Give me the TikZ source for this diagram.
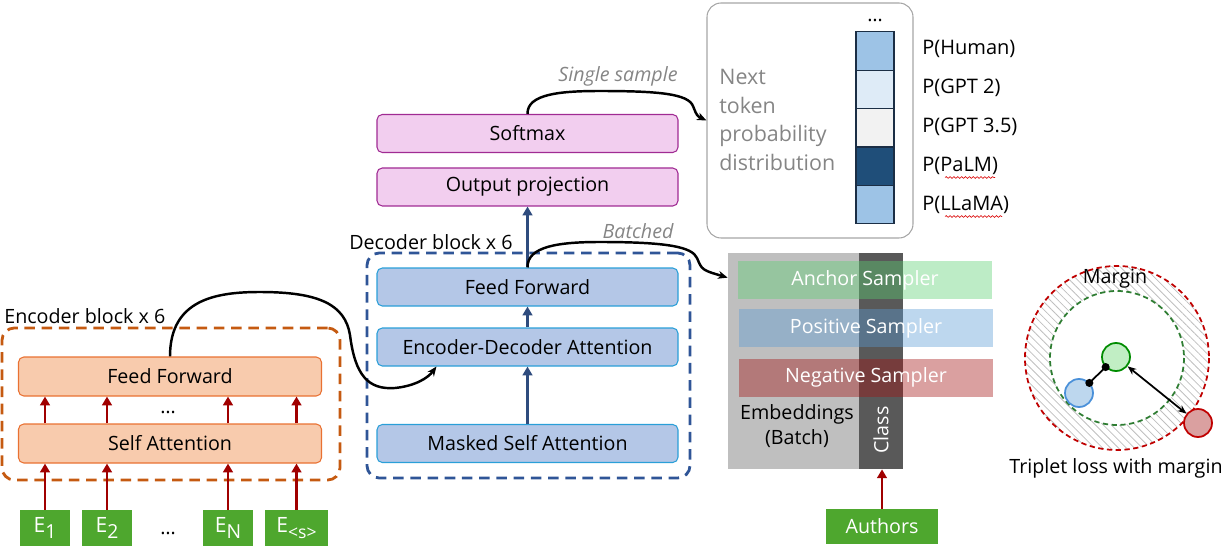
\documentclass[tikz,border=0pt]{standalone}
\usepackage{fontspec}
\setmainfont{Open Sans}
\usetikzlibrary{arrows.meta,patterns.meta,decorations.pathmorphing,calc}

\definecolor{encfill}{HTML}{F8CBAD}
\definecolor{encdraw}{HTML}{E97132}
\definecolor{encdash}{HTML}{C55A11}
\definecolor{decfill}{HTML}{B4C7E7}
\definecolor{decdraw}{HTML}{2A9FD8}
\definecolor{decdash}{HTML}{2F5597}
\definecolor{decarrow}{HTML}{2F4C7E}
\definecolor{outfill}{HTML}{F2CEEF}
\definecolor{outdraw}{HTML}{A02B93}
\definecolor{tokgreen}{HTML}{4EA72E}
\definecolor{redarrow}{HTML}{A00000}
\definecolor{notegray}{HTML}{858585}
\definecolor{boxgray}{HTML}{A6A6A6}
\definecolor{embgray}{HTML}{BFBFBF}
\definecolor{classgray}{HTML}{595959}
\definecolor{ancC}{RGB}{90,207,112}
\definecolor{posC}{RGB}{90,155,212}
\definecolor{negC}{RGB}{162,17,17}
\definecolor{barA}{HTML}{9DC3E6}
\definecolor{barB}{HTML}{DEEBF7}
\definecolor{barC}{HTML}{F2F2F2}
\definecolor{barD}{HTML}{1F4E79}
\definecolor{barline}{HTML}{1B2E45}
\definecolor{margred}{HTML}{C00000}
\definecolor{margreen}{HTML}{2E7D32}

\def\pu{0.02cm}
\newcommand\tsub[1]{\raisebox{-0.5ex}{\fontsize{11}{11}\selectfont #1}}

\tikzset{
  lbl/.style={font=\fontsize{11.2}{13}\selectfont},
  encblock/.style={lbl, draw=encdraw, fill=encfill, rounded corners=3pt, line width=0.6pt,
    minimum width=303*\pu, minimum height=39*\pu, inner sep=0pt},
  decblock/.style={lbl, draw=decdraw, fill=decfill, rounded corners=3pt, line width=0.6pt,
    minimum width=301*\pu, minimum height=38*\pu, inner sep=0pt},
  outblock/.style={lbl, draw=outdraw, fill=outfill, rounded corners=3pt, line width=0.6pt,
    minimum width=301*\pu, minimum height=38*\pu, inner sep=0pt},
  frame/.style={dash pattern=on 6pt off 3.8pt, line width=1.6pt, rounded corners=7pt, inner sep=0pt},
  tok/.style={fill=tokgreen, text=white, font=\fontsize{12}{14}\selectfont, minimum height=36*\pu, inner sep=0pt},
  redarr/.style={draw=redarrow, line width=1.7pt, -{Triangle[length=5pt,width=5.5pt]}},
  bluearr/.style={draw=decarrow, line width=1.7pt, -{Triangle[length=5pt,width=5.5pt]}},
  curvearr/.style={draw=black, line width=1.4pt, -{Stealth[length=5.5pt,width=4.5pt]}},
  note/.style={font=\fontsize{11.2}{13}\selectfont\itshape, text=notegray},
  cell/.style={draw=barline, line width=0.6pt, minimum width=38*\pu, minimum height=38.4*\pu, inner sep=0pt},
  plabel/.style={font=\fontsize{11.4}{13}\selectfont, anchor=west, inner sep=0pt},
  sampler/.style={lbl, text=white, fill opacity=0.4, text opacity=1, minimum width=254*\pu,
    minimum height=38*\pu, inner sep=0pt},
  dot3/.style={lbl, inner sep=0pt},
  squiggle/.style={draw=red!85!black, line width=0.35pt, decorate,
    decoration={snake, amplitude=0.5pt, segment length=2.2pt}},
  ball/.style={circle, line width=1pt, minimum size=28*\pu, inner sep=0pt},
}

\begin{document}
\begin{tikzpicture}[x=\pu, y=-\pu]
\useasboundingbox (0,0) rectangle (1225,554);

% ---------------- Encoder ----------------
\node[frame, draw=encdash, minimum width=338*\pu, minimum height=152*\pu] (encframe) at (171,404) {};
\node[lbl, anchor=west, inner sep=0pt] (enclabel) at (4,316) {Encoder block x 6};
\node[encblock] (efeed) at (170,376.5) {Feed Forward};
\node[encblock] (eself) at (170,443.5) {Self Attention};
\node[dot3] (edotsA) at (168,412) {…};

\node[tok, minimum width=50*\pu] (e1) at (45,528) {E\tsub{1}};
\node[tok, minimum width=50*\pu] (e2) at (107,528) {E\tsub{2}};
\node[tok, minimum width=50*\pu] (eN) at (228,528) {E\tsub{N}};
\node[tok, minimum width=63*\pu] (es) at (296.5,528) {E\tsub{\fontsize{10}{10}\selectfont<s>}};
\node[dot3] (edotsB) at (168,533) {…};

\foreach \t in {e1,e2,eN,es} {
  \draw[redarr] (\t.north) -- (\t.north |- eself.south);
  \draw[redarr] (\t.north |- eself.north) -- (\t.north |- efeed.south);
}

% ---------------- Decoder ----------------
\node[frame, draw=decdash, minimum width=323*\pu, minimum height=225*\pu] (decframe) at (528.5,365.5) {};
\node[lbl, anchor=west, inner sep=0pt] (declabel) at (349,242) {Decoder block x 6};
\node[decblock] (dfeed) at (527.5,287) {Feed Forward};
\node[decblock] (dattn) at (527.5,347) {Encoder-Decoder Attention};
\node[decblock] (dmask) at (527.5,443.5) {Masked Self Attention};
\node[outblock] (outproj) at (527.5,187) {Output projection};
\node[outblock] (softmax) at (527.5,133.5) {Softmax};

\draw[bluearr] (dmask.north) -- (dattn.south);
\draw[bluearr] (dattn.north) -- (dfeed.south);
\draw[bluearr] (dfeed.north) -- (outproj.south);

% encoder output into the cross attention
\draw[curvearr] (efeed.north) .. controls (170,300) and (215,292) .. (260,292)
  .. controls (320,292) and (345,305) .. (350,335)
  .. controls (355,375) and (368,390) .. (395,388)
  .. controls (415,386) and (428,378) .. ([xshift=1.2cm]dattn.south west);

% ---------------- Next token distribution ----------------
\node[draw=boxgray, line width=0.6pt, rounded corners=8pt, minimum width=206*\pu,
  minimum height=235*\pu, inner sep=0pt] (ntbox) at (810,120.5) {};
\node[anchor=west, align=left, text=notegray, inner sep=0pt,
  font=\fontsize{12.2}{16.4}\selectfont] (nttext) at (719,120) {Next\\token\\probability\\distribution};

\node[cell, fill=barA] (c1) at (875,51) {};
\node[cell, fill=barB] (c2) at (875,89.4) {};
\node[cell, fill=barC] (c3) at (875,127.8) {};
\node[cell, fill=barD] (c4) at (875,166.2) {};
\node[cell, fill=barA] (c5) at (875,204.6) {};
\node[dot3] (bardots) at (875,20) {…};

\node[plabel] (p1) at (922,49) {P(Human)};
\node[plabel] (p2) at (922,88) {P(GPT 2)};
\node[plabel] (p3) at (922,127) {P(GPT 3.5)};
\node[plabel] (p4) at (922,166) {P(PaLM)};
\node[plabel] (p5) at (922,205) {P(LLaMA)};
\draw[squiggle] (945,177.5) -- (995,177.5);
\draw[squiggle] (945,216.5) -- (1002,216.5);

\node[note] (single) at (618,76) {Single sample};
\draw[curvearr] (softmax.north) .. controls (527,94) and (560,91) .. (600,91)
  .. controls (660,91) and (688,94) .. (693,106)
  .. controls (697,116) .. (ntbox.west);

% ---------------- Embeddings and samplers ----------------
\node[fill=embgray, minimum width=175*\pu, minimum height=216*\pu, inner sep=0pt] (emb) at (815.5,361) {};
\node[fill=classgray, minimum width=44*\pu, minimum height=216*\pu, inner sep=0pt] (classcol) at (881,361) {};
\node[sampler, fill=ancC] (anchor) at (865,280) {Anchor Sampler};
\node[sampler, fill=posC] (positive) at (866,328) {Positive Sampler};
\node[sampler, fill=negC] (negative) at (866,377.5) {Negative Sampler};
\node[lbl, align=center, inner sep=0pt, font=\fontsize{11.2}{14.2}\selectfont] (embtext) at (797,426) {Embeddings\\(Batch)};
\node[lbl, text=white, rotate=90, inner sep=0pt] (classtext) at (881,430) {Class};

\node[tok, font=\fontsize{11.2}{13}\selectfont, minimum width=112*\pu, minimum height=35*\pu] (authors) at (882,526.5) {Authors};
\draw[redarr] (authors.north) -- (authors.north |- classcol.south);

\node[note] (batched) at (638,231) {Batched};
\draw[curvearr] (dfeed.north) .. controls (527,246) and (560,242) .. (600,242)
  .. controls (668,242) and (692,247) .. (697,258)
  .. controls (702,270) .. ([yshift=-0.5cm]emb.north west);

% ---------------- Triplet loss ----------------
\coordinate (ctr) at (1117,358);
\fill[pattern={Lines[angle=-45,distance=3.2pt,line width=0.45pt]}, pattern color=gray!50, even odd rule]
  (ctr) circle (92) (ctr) circle (67);
\draw[margred, line width=1pt, dash pattern=on 3pt off 2pt] (ctr) circle (92);
\draw[margreen, line width=1pt, dash pattern=on 3pt off 2pt] (ctr) circle (67);
\node[lbl] (margin) at (1115,279) {Margin};

\node[ball, draw=green!55!black, fill={rgb,255:red,193;green,238;blue,196}] (ta) at (1116,357) {};
\node[ball, draw={rgb,255:red,74;green,144;blue,217}, fill={rgb,255:red,189;green,215;blue,238}] (tp) at (1079,393) {};
\node[ball, draw=margred, fill={rgb,255:red,218;green,160;blue,160}] (tn) at (1198,423) {};

\draw[line width=1pt, shorten <=-2.5pt, shorten >=-2.5pt, {Circle[length=4.5pt]}-{Circle[length=4.5pt]}] (tp) -- (ta);
\draw[line width=1pt, {Stealth[length=5pt,width=4pt]}-{Stealth[length=5pt,width=4pt]}] (ta) -- (tn);

\node[lbl] (triplet) at (1116,468) {Triplet loss with margin};
\end{tikzpicture}
\end{document}
